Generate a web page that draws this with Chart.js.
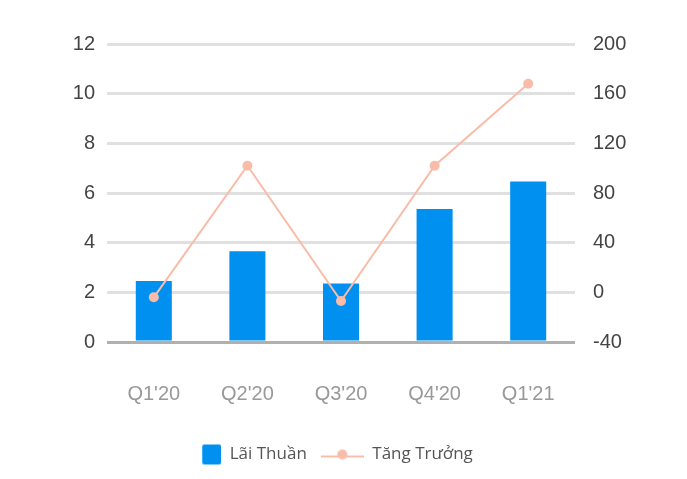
<html><head>
<script src="https://cdn.jsdelivr.net/npm/chart.js@4.4.1/dist/chart.umd.min.js"></script>
<style>
  body { margin: 0; background: #fff; }
</style>
</head>
<body>
<canvas id="chart" width="687" height="479"></canvas>
<script>

var quarters = ["Q1'20", "Q2'20", "Q3'20", "Q4'20", "Q1'21"];
var laiThuan = [2.46, 3.65, 2.36, 5.36, 6.46];
var tangTruong = [-4, 102, -7, 102, 168];
var leftTicks = [0, 2, 4, 6, 8, 10, 12];
var rightTicks = [-40, 0, 40, 80, 120, 160, 200];

var barColor = '#0091F0';
var lineColor = '#F9BCA9';

// legend icons, same width so text lines up
function makeIcon(kind) {
  var c = document.createElement('canvas');
  c.width = 43; c.height = 22;
  var g = c.getContext('2d');
  if (kind == 'bar') {
    g.fillStyle = barColor;
    g.beginPath();
    g.roundRect(24, 1, 19, 20, 2);
    g.fill();
  } else {
    g.strokeStyle = lineColor;
    g.lineWidth = 2;
    g.beginPath();
    g.moveTo(0, 13); g.lineTo(43, 13);
    g.stroke();
    g.fillStyle = lineColor;
    g.beginPath();
    g.arc(21.5, 11, 5, 0, Math.PI * 2);
    g.fill();
  }
  return c;
}
var barIcon = makeIcon('bar');
var lineIcon = makeIcon('line');

// the square icon has blank room on its left, pull legend back to center
var legendShift = {
  id: 'legendShift',
  afterLayout: function(chart) {
    chart.legend.left -= 18;
    chart.legend.right -= 18;
  }
};

new Chart(document.getElementById('chart'), {
  data: {
    labels: quarters,
    datasets: [{
      type: 'line',
      label: 'Tăng Trưởng',
      data: tangTruong,
      yAxisID: 'y2',
      borderColor: lineColor,
      backgroundColor: lineColor,
      borderWidth: 2,
      pointRadius: 5,
      pointHoverRadius: 5,
      pointBackgroundColor: lineColor,
      pointBorderWidth: 0,
      tension: 0,
      order: 0
    }, {
      type: 'bar',
      label: 'Lãi Thuần',
      data: laiThuan,
      yAxisID: 'y',
      backgroundColor: barColor,
      categoryPercentage: 0.77,
      barPercentage: 0.5,
      order: 1
    }]
  },
  plugins: [legendShift],
  options: {
    responsive: false,
    animation: false,
    layout: { padding: { top: 44, left: 0, right: 0, bottom: 6 } },
    plugins: {
      tooltip: { enabled: false },
      legend: {
        position: 'bottom',
        labels: {
          usePointStyle: true,
          pointStyleWidth: 43,
          padding: 14,
          color: '#555',
          font: { family: "'Open Sans'", size: 17 },
          generateLabels: function(chart) {
            return [
              { text: 'Lãi Thuần', pointStyle: barIcon, fillStyle: barColor, strokeStyle: barColor, lineWidth: 0, datasetIndex: 1, fontColor: '#555' },
              { text: 'Tăng Trưởng', pointStyle: lineIcon, fillStyle: lineColor, strokeStyle: lineColor, lineWidth: 0, datasetIndex: 0, fontColor: '#555' }
            ];
          }
        }
      }
    },
    scales: {
      x: {
        grid: { display: false },
        border: { display: false },
        ticks: {
          color: '#999',
          padding: 32,
          font: { family: "'Liberation Sans'", size: 20 }
        },
        afterFit: function(s) { s.height = 90; }
      },
      y: {
        position: 'left',
        min: 0, max: 12,
        afterBuildTicks: function(s) { s.ticks = leftTicks.map(function(v) { return { value: v }; }); },
        grid: {
          drawTicks: false,
          lineWidth: 3,
          color: function(ctx) { return ctx.index == 0 ? '#b0b0b0' : '#e0e0e0'; }
        },
        border: { display: false },
        ticks: {
          color: '#444',
          padding: 12,
          font: { family: "'Liberation Sans'", size: 20 }
        },
        afterFit: function(s) { s.width = 107; }
      },
      y2: {
        position: 'right',
        min: -40, max: 200,
        afterBuildTicks: function(s) { s.ticks = rightTicks.map(function(v) { return { value: v }; }); },
        grid: { display: false },
        border: { display: false },
        ticks: {
          color: '#444',
          padding: 10,
          font: { family: "'Liberation Sans'", size: 20 }
        },
        afterFit: function(s) { s.width = 112; }
      }
    }
  }
});
</script>
</body>
</html>
